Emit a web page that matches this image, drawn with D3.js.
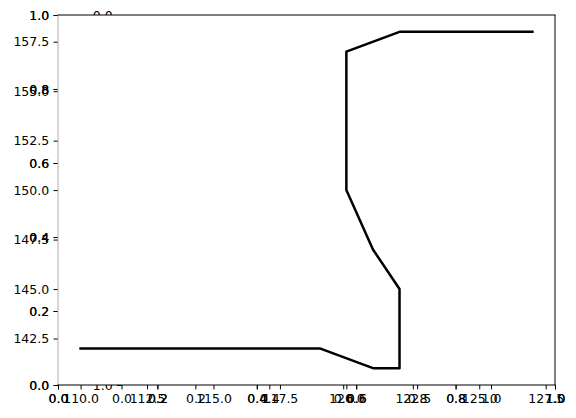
<!DOCTYPE html>
<html><head><meta charset="utf-8">
<script src="https://cdn.jsdelivr.net/npm/d3@7"></script>
<style>
html,body{margin:0;padding:0;background:#fff;}
svg{display:block;}
.ax text{font-family:"DejaVu Sans",sans-serif;font-size:12.5px;fill:#000;}
.ax line{stroke:#000;stroke-width:1;}
</style></head>
<body>
<script>
// data series
const xValues = [110, 119, 121, 122, 122, 121, 120, 120, 122, 127];
const yValues = [142, 142, 141, 141, 145, 147, 150, 157, 158, 158];
// tick labels
const unitTicks = [0, 0.2, 0.4, 0.6, 0.8, 1.0];
const dataXTicks = [110, 112.5, 115, 117.5, 120, 122.5, 125, 127.5];
const dataYTicks = [142.5, 145, 147.5, 150, 152.5, 155, 157.5];

const W = 576, H = 418;
const L = 58, R = 555, T = 15, B = 385;
const TK = 4.4, PAD = 4.4;

const svg = d3.select("body").append("svg").attr("width", W).attr("height", H);
svg.append("rect").attr("width", W).attr("height", H).attr("fill", "#fff");

const fmt = d3.format(".1f");

// hidden third axes (behind main axes)
const x3 = d3.scaleLinear().domain([0, 1]).range([121.5, 491]);
const y3 = d3.scaleLinear().domain([0, 1]).range([T, B]);
function styleAxis(g){ g.select(".domain").remove(); g.attr("class","ax"); }
svg.append("g").attr("transform", `translate(0,${B})`)
  .call(d3.axisBottom(x3).tickValues(unitTicks).tickFormat(fmt).tickSize(TK).tickPadding(PAD)).call(styleAxis);
svg.append("g").attr("transform", `translate(${x3(0)},0)`)
  .call(d3.axisLeft(y3).tickValues(unitTicks).tickFormat(fmt).tickSize(TK).tickPadding(PAD)).call(styleAxis);

// axes background
svg.append("rect").attr("x", L).attr("y", T).attr("width", R - L).attr("height", B - T).attr("fill", "#fff");

// unit axes (drawn twice, overlapping)
const xu = d3.scaleLinear().domain([0, 1]).range([L, R]);
const yu = d3.scaleLinear().domain([0, 1]).range([B, T]);
for (let k = 0; k < 2; k++) {
  svg.append("g").attr("transform", `translate(0,${B})`)
    .call(d3.axisBottom(xu).tickValues(unitTicks).tickFormat(fmt).tickSize(TK).tickPadding(PAD)).call(styleAxis);
  svg.append("g").attr("transform", `translate(${L},0)`)
    .call(d3.axisLeft(yu).tickValues(unitTicks).tickFormat(fmt).tickSize(TK).tickPadding(PAD)).call(styleAxis);
}

// data axes
const xd = d3.scaleLinear().domain([109.15, 127.85]).range([L, R]);
const yd = d3.scaleLinear().domain([140.15, 158.85]).range([B, T]);
svg.append("g").attr("transform", `translate(0,${B})`)
  .call(d3.axisBottom(xd).tickValues(dataXTicks).tickFormat(fmt).tickSize(TK).tickPadding(PAD)).call(styleAxis);
svg.append("g").attr("transform", `translate(${L},0)`)
  .call(d3.axisLeft(yd).tickValues(dataYTicks).tickFormat(fmt).tickSize(TK).tickPadding(PAD)).call(styleAxis);

// line
const pts = xValues.map((v, i) => [v, yValues[i]]);
svg.append("path").datum(pts)
  .attr("d", d3.line().x(d => xd(d[0])).y(d => yd(d[1])))
  .attr("fill", "none").attr("stroke", "#000").attr("stroke-width", 2.5)
  .attr("stroke-linejoin", "round").attr("stroke-linecap", "square");

// spines
svg.append("line").attr("x1", L).attr("x2", L).attr("y1", T).attr("y2", B).attr("stroke", "#b0b0b0").attr("stroke-width", 1);
svg.append("line").attr("x1", L - 0.5).attr("x2", R + 0.5).attr("y1", T).attr("y2", T).attr("stroke", "#000").attr("stroke-width", 1);
svg.append("line").attr("x1", L - 0.5).attr("x2", R + 0.5).attr("y1", B).attr("y2", B).attr("stroke", "#000").attr("stroke-width", 1);
svg.append("line").attr("x1", R).attr("x2", R).attr("y1", T).attr("y2", B).attr("stroke", "#000").attr("stroke-width", 1);
</script>
</body></html>
